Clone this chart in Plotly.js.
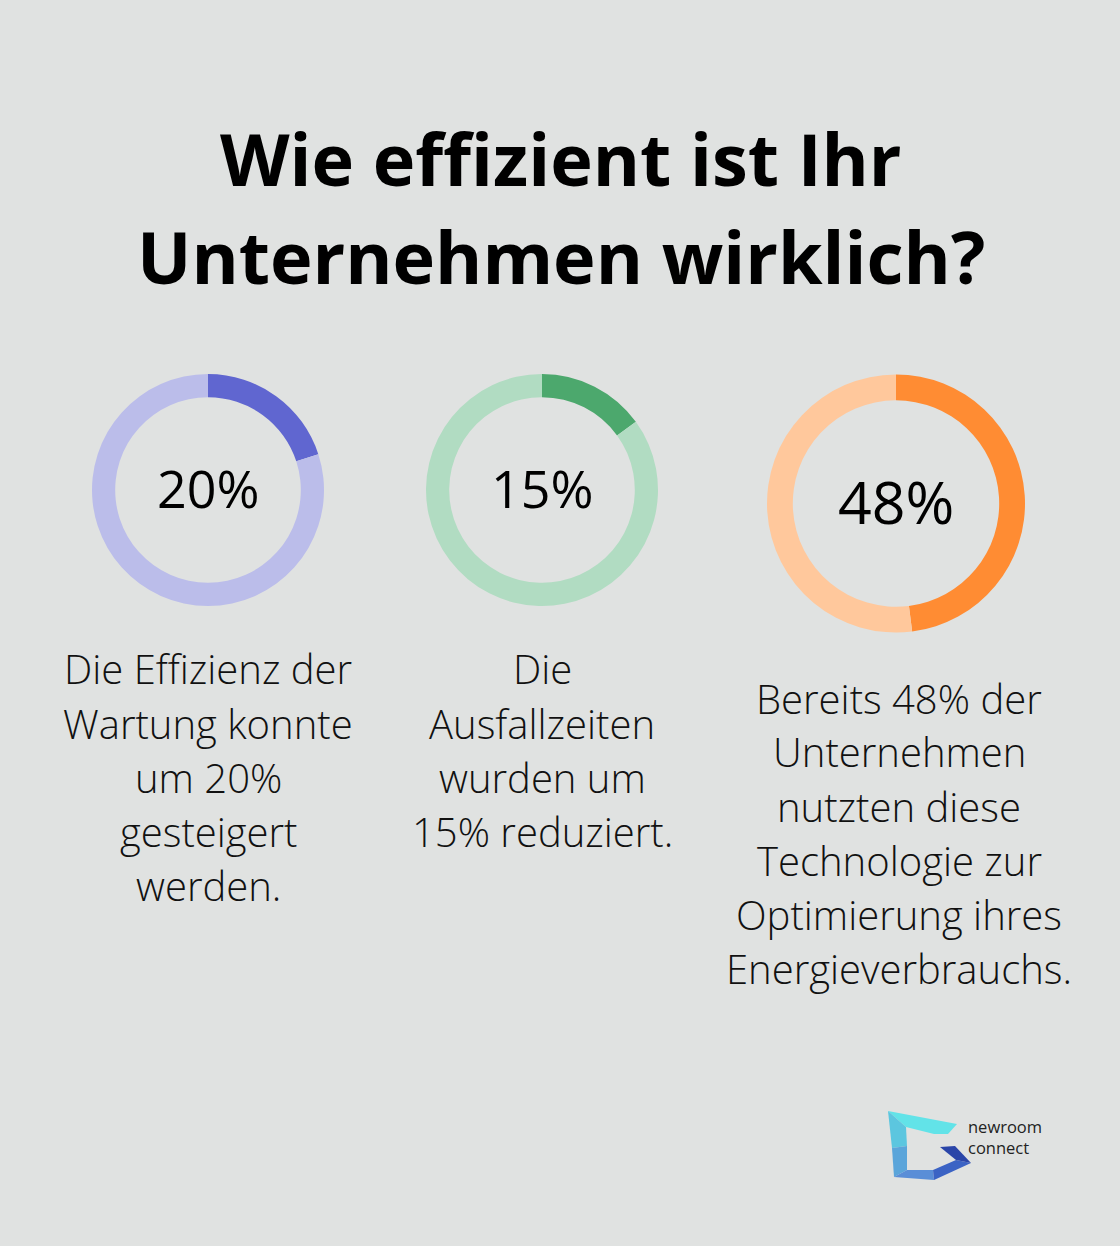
<!DOCTYPE html>
<html>
<head>
<meta charset="utf-8">
<script src="https://cdn.plot.ly/plotly-3.0.1.min.js"></script>
<style>html,body{margin:0;padding:0;background:#E0E2E1;}#chart{width:1120px;height:1246px;}</style>
</head>
<body>
<div id="chart"></div>
<script>
// Data
const titleLines = ["Wie effizient ist Ihr", "Unternehmen wirklich?"];
const percentValues = [20, 15, 48];
const centerLabels = ["20%", "15%", "48%"];
const descriptions = [
  ["Die Effizienz der", "Wartung konnte", "um 20%", "gesteigert", "werden."],
  ["Die", "Ausfallzeiten", "wurden um", "15% reduziert."],
  ["Bereits 48% der", "Unternehmen", "nutzten diese", "Technologie zur", "Optimierung ihres", "Energieverbrauchs."]
];
const logoText = "newroom<br>connect";

// Styling / layout
const W = 1120, H = 1246;
const darkColors = ["#6066D0", "#4CA86D", "#FF8C33"];
const lightColors = ["#BBBDEA", "#B1DCC2", "#FFC89C"];
const centers = [[208, 490, 116], [542, 490, 116], [896, 503.5, 129]];
const labelSizes = [52, 52, 59];
const descStart = [[208, 669], [542, 669], [899, 698]];
const descStep = 54;

const px = x => x / W;
const py = y => 1 - y / H;

const traces = percentValues.map((v, i) => {
  const [cx, cy, r] = centers[i];
  return {
    type: "pie",
    values: [v, 100 - v],
    labels: ["a" + i, "b" + i],
    sort: false,
    direction: "clockwise",
    rotation: 0,
    hole: 0.8,
    textinfo: "none",
    hoverinfo: "none",
    showlegend: false,
    marker: { colors: [darkColors[i], lightColors[i]], line: { width: 0 } },
    domain: { x: [px(cx - r), px(cx + r)], y: [py(cy + r), py(cy - r)] }
  };
});

const ann = (text, x, y, size, opts) => Object.assign({
  text: text, x: px(x), y: py(y), xref: "paper", yref: "paper",
  xanchor: "center", yanchor: "middle", showarrow: false, align: "center",
  font: { family: "Open Sans", size: size, color: "#000000" }
}, opts || {});

const annotations = [];
const titleY = [158, 256];
titleLines.forEach((t, i) => {
  annotations.push(ann(t, 561, titleY[i], 72, { font: { family: "Open Sans", size: 72, color: "#000000", weight: 700 } }));
});
percentValues.forEach((v, i) => {
  const [cx, cy] = centers[i];
  annotations.push(ann(centerLabels[i], cx, cy - 2, labelSizes[i],
    { font: { family: "Open Sans", size: labelSizes[i], color: "#000000", weight: 500 } }));
  descriptions[i].forEach((line, j) => {
    annotations.push(ann(line, descStart[i][0], descStart[i][1] + j * descStep, 40,
      { font: { family: "Open Sans", size: 40, color: "#111111", weight: 300 } }));
  });
});
annotations.push(ann(logoText, 966, 1137, 16.5,
  { xanchor: "left", align: "left", font: { family: "Open Sans", size: 16.5, color: "#222222" } }));

const poly = (pts, color) => ({
  type: "path", xref: "paper", yref: "paper",
  path: "M " + pts.map(p => px(p[0]) + "," + py(p[1])).join(" L ") + " Z",
  fillcolor: color, line: { width: 0 }, layer: "above"
});
const shapes = [
  poly([[888,1111],[957,1124],[948,1134],[934,1134],[906,1127]], "#62E3E8"),
  poly([[888,1111],[906,1127],[907,1146],[892,1148]], "#5CC6DF"),
  poly([[892,1148],[907,1146],[907,1170],[894,1177]], "#5BA5DA"),
  poly([[894,1177],[907,1170],[933,1170],[934,1180]], "#5A8ED7"),
  poly([[934,1180],[933,1170],[956,1160],[971,1163]], "#3B63C4"),
  poly([[956,1160],[940,1147],[955,1146],[971,1163]], "#2A45A8")
];

Plotly.newPlot("chart", traces, {
  width: W, height: H,
  margin: { l: 0, r: 0, t: 0, b: 0 },
  paper_bgcolor: "#E0E2E1", plot_bgcolor: "#E0E2E1",
  annotations: annotations, shapes: shapes, showlegend: false
}, { staticPlot: true });
</script>
</body>
</html>
